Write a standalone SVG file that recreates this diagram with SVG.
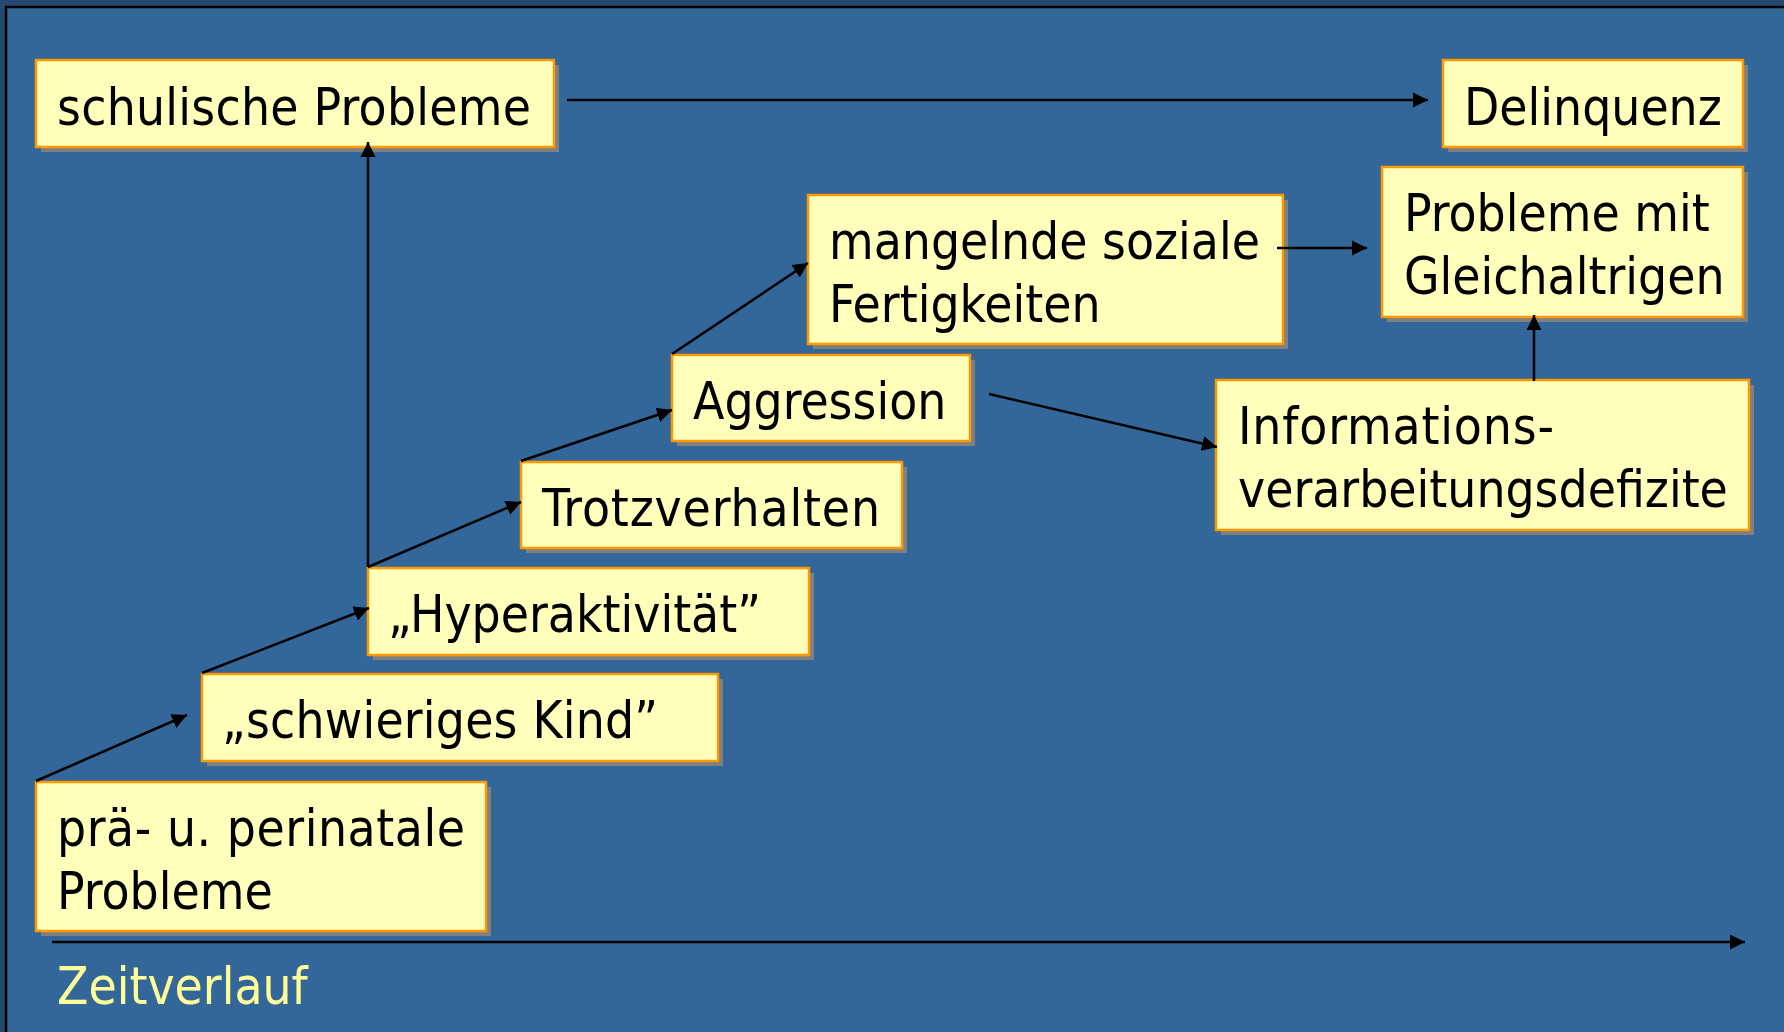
<svg xmlns="http://www.w3.org/2000/svg" width="1784" height="1032" viewBox="0 0 1784 1032">
<style>
.sh{fill:#808080}
.bx{fill:#ffffbb;stroke:#ff9900;stroke-width:2.5}
.t{font-family:"DejaVu Sans Condensed","DejaVu Sans",sans-serif;font-size:51px;fill:#000}
.c line{stroke:#000;stroke-width:2.5;marker-end:url(#ah)}
</style>
<defs>
<marker id="ah" markerUnits="userSpaceOnUse" markerWidth="16" markerHeight="16" refX="15" refY="8" orient="auto" viewBox="0 0 16 16">
<path d="M0,0.5 L15,8 L0,15.5 z" fill="#000"/>
</marker>
</defs>
<rect x="0" y="0" width="1784" height="1032" fill="#254a72"/>
<rect x="6" y="7" width="1800" height="1100" fill="#336699" stroke="#000" stroke-width="2.5"/>

<g id="n-schulische">
<rect class="sh" x="41" y="65" width="518" height="87"/>
<rect class="bx" x="36" y="60" width="518" height="87"/>
<text class="t" x="57" y="125" textLength="474">schulische Probleme</text>
</g>
<g id="n-delinquenz">
<rect class="sh" x="1448" y="65" width="300" height="87"/>
<rect class="bx" x="1443" y="60" width="300" height="87"/>
<text class="t" x="1464" y="125">Delinquenz</text>
</g>
<g id="n-gleichaltrige">
<rect class="sh" x="1387" y="172" width="361" height="150"/>
<rect class="bx" x="1382" y="167" width="361" height="150"/>
<text class="t" x="1404" y="231">Probleme mit</text>
<text class="t" x="1404" y="294">Gleichaltrigen</text>
</g>
<g id="n-mangelnde">
<rect class="sh" x="813" y="200" width="475" height="149"/>
<rect class="bx" x="808" y="195" width="475" height="149"/>
<text class="t" x="829" y="259">mangelnde soziale</text>
<text class="t" x="829" y="322">Fertigkeiten</text>
</g>
<g id="n-aggression">
<rect class="sh" x="677" y="360" width="298" height="86"/>
<rect class="bx" x="672" y="355" width="298" height="86"/>
<text class="t" x="693" y="419">Aggression</text>
</g>
<g id="n-info">
<rect class="sh" x="1221" y="385" width="533" height="150"/>
<rect class="bx" x="1216" y="380" width="533" height="150"/>
<text class="t" x="1238" y="444" textLength="316">Informations-</text>
<text class="t" x="1238" y="507">verarbeitungsdefizite</text>
</g>
<g id="n-trotz">
<rect class="sh" x="526" y="467" width="381" height="86"/>
<rect class="bx" x="521" y="462" width="381" height="86"/>
<text class="t" x="542" y="526" textLength="338">Trotzverhalten</text>
</g>
<g id="n-hyper">
<rect class="sh" x="373" y="573" width="441" height="87"/>
<rect class="bx" x="368" y="568" width="441" height="87"/>
<text class="t" x="388" y="632">„Hyperaktivität”</text>
</g>
<g id="n-schwierig">
<rect class="sh" x="207" y="679" width="516" height="87"/>
<rect class="bx" x="202" y="674" width="516" height="87"/>
<text class="t" x="222" y="738" textLength="436">„schwieriges Kind”</text>
</g>
<g id="n-praeperi">
<rect class="sh" x="41" y="787" width="450" height="149"/>
<rect class="bx" x="36" y="782" width="450" height="149"/>
<text class="t" x="57" y="846" textLength="408">prä- u. perinatale</text>
<text class="t" x="57" y="909">Probleme</text>
</g>

<g id="connectors" class="c">
<line x1="567" y1="100" x2="1428" y2="100"/>
<line x1="1277" y1="248" x2="1367" y2="248"/>
<line x1="1534" y1="381" x2="1534" y2="315"/>
<line x1="989" y1="394" x2="1217" y2="447"/>
<line x1="672" y1="354" x2="808" y2="263"/>
<line x1="521" y1="461" x2="672" y2="410"/>
<line x1="368" y1="567" x2="521" y2="502"/>
<line x1="368" y1="567" x2="368" y2="142"/>
<line x1="202" y1="673" x2="369" y2="608"/>
<line x1="36" y1="781" x2="187" y2="715"/>
<line x1="52" y1="942" x2="1745" y2="942"/>
</g>
<text x="57" y="1004" style="font-family:'DejaVu Sans Condensed','DejaVu Sans',sans-serif;font-size:51px;fill:#ffff99">Zeitverlauf</text>
</svg>
